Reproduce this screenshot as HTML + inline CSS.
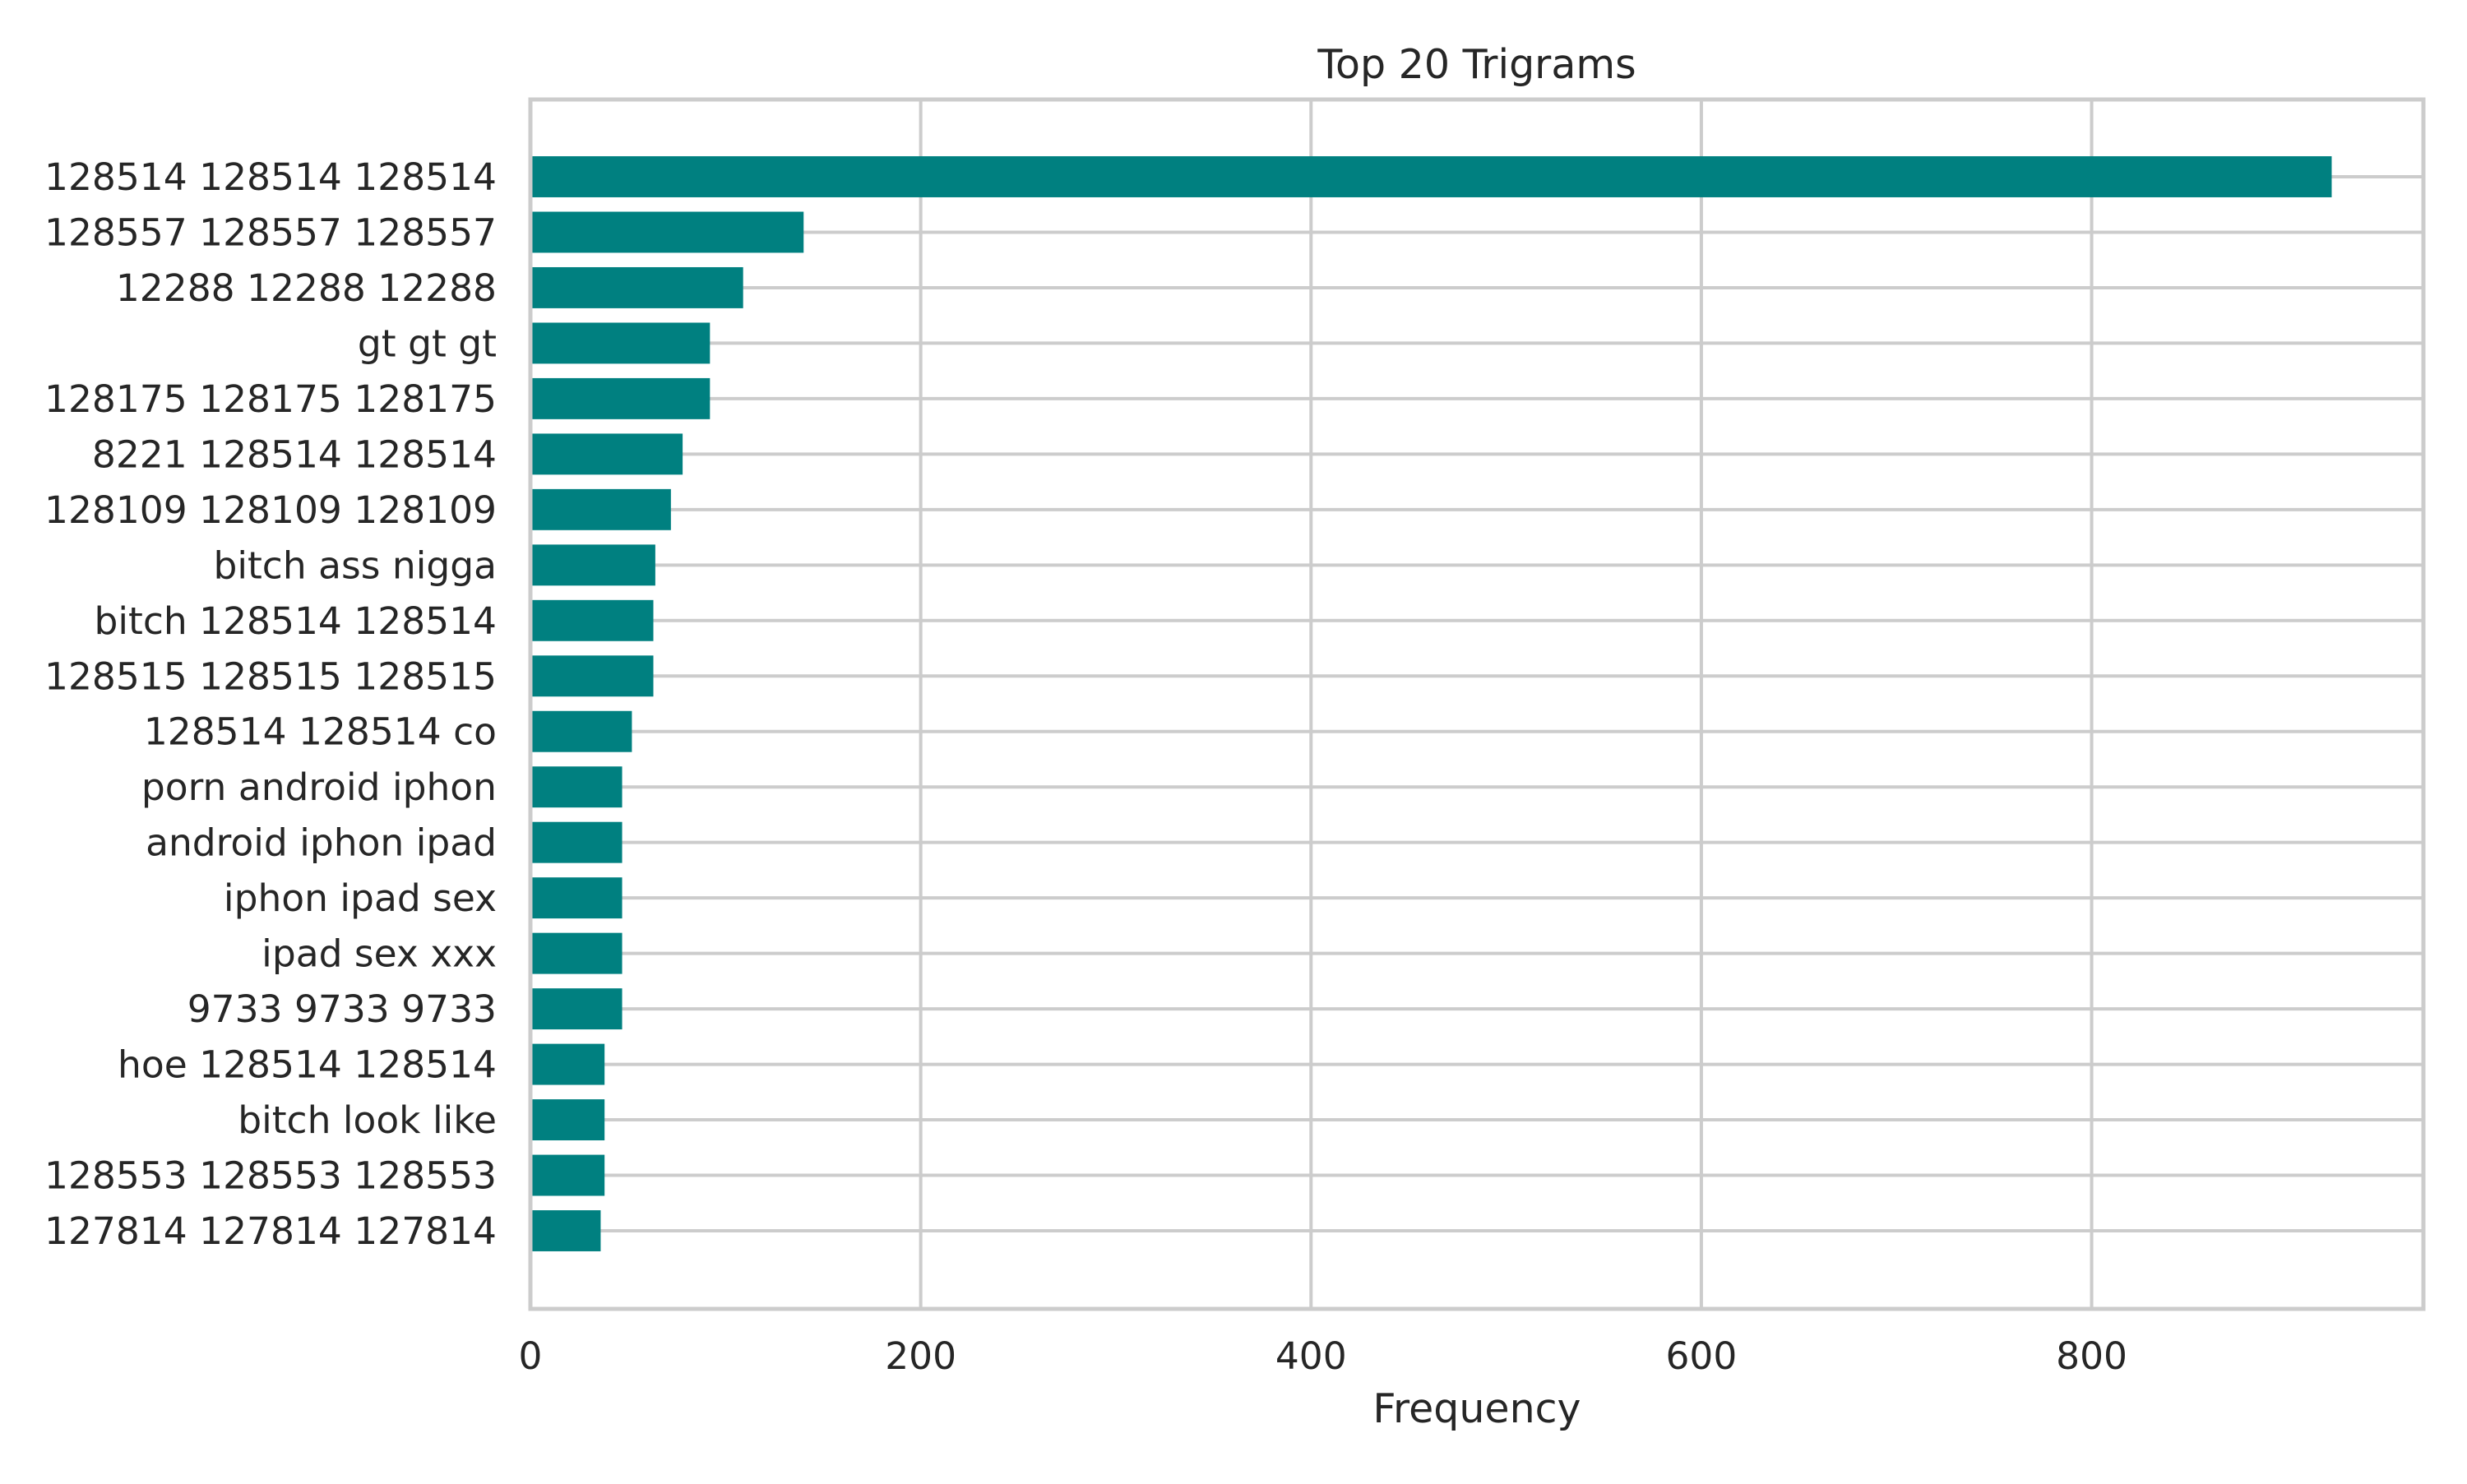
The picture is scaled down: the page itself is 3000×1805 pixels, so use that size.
<!DOCTYPE html>
<html><head><meta charset="utf-8"><style>
html,body{margin:0;padding:0;background:#fff;}
svg text{font-family:"DejaVu Sans","Liberation Sans",sans-serif;fill:#262626;}
</style></head><body>
<svg id="chart" width="3000" height="1800" xmlns="http://www.w3.org/2000/svg">
<rect width="3000" height="1800" fill="#fff"/>
<g id="grid"></g><g id="bars"></g><g id="spines"></g><g id="labels"></g>
</svg>
<script>
const categories = ["128514 128514 128514","128557 128557 128557","12288 12288 12288","gt gt gt","128175 128175 128175","8221 128514 128514","128109 128109 128109","bitch ass nigga","bitch 128514 128514","128515 128515 128515","128514 128514 co","porn android iphon","android iphon ipad","iphon ipad sex","ipad sex xxx","9733 9733 9733","hoe 128514 128514","bitch look like","128553 128553 128553","127814 127814 127814"];
const values = [923,140,109,92,92,78,72,64,63,63,52,47,47,47,47,47,38,38,38,36];
const xTicks = [0,200,400,600,800];

const NS="http://www.w3.org/2000/svg";
const L=645,R=2947,T=121,B=1592;
const xMax=970;
const x=v=>L+v/xMax*(R-L);
const y0=215,step=(1497-215)/19;
const y=i=>y0+i*step;
const bh=step*0.74;
function mk(tag,attrs,parent,txt){const e=document.createElementNS(NS,tag);for(const k in attrs)e.setAttribute(k,attrs[k]);if(txt!==undefined)e.textContent=txt;document.getElementById(parent).appendChild(e);return e;}
xTicks.forEach(t=>{
  const g=mk('line',{x1:x(t),x2:x(t),y1:T,y2:B,stroke:'#cccccc','stroke-width':4},'grid');
  
  
  const lb=mk('text',{x:x(t),y:1665,'font-size':45.5,'text-anchor':'middle'},'labels',String(t));
  
  
});
categories.forEach((c,i)=>{
  const g=mk('line',{x1:L,x2:R,y1:y(i),y2:y(i),stroke:'#cccccc','stroke-width':4},'grid');
  
  
  const b=mk('rect',{x:L,y:y(i)-bh/2,width:x(values[i])-L,height:bh,fill:'#008080'},'bars');
  
  
  const lb=mk('text',{x:604,y:y(i)+16,'font-size':45.5,'text-anchor':'end'},'labels',c);
  
  
});
const sp=mk('rect',{x:L,y:T,width:R-L,height:B-T,fill:'none',stroke:'#cccccc','stroke-width':5},'spines');


const ti=mk('text',{x:(L+R)/2,y:95,'font-size':49,'text-anchor':'middle'},'labels','Top 20 Trigrams');


const xl=mk('text',{x:(L+R)/2,y:1730,'font-size':49,'text-anchor':'middle'},'labels','Frequency');


</script>
</body></html>
